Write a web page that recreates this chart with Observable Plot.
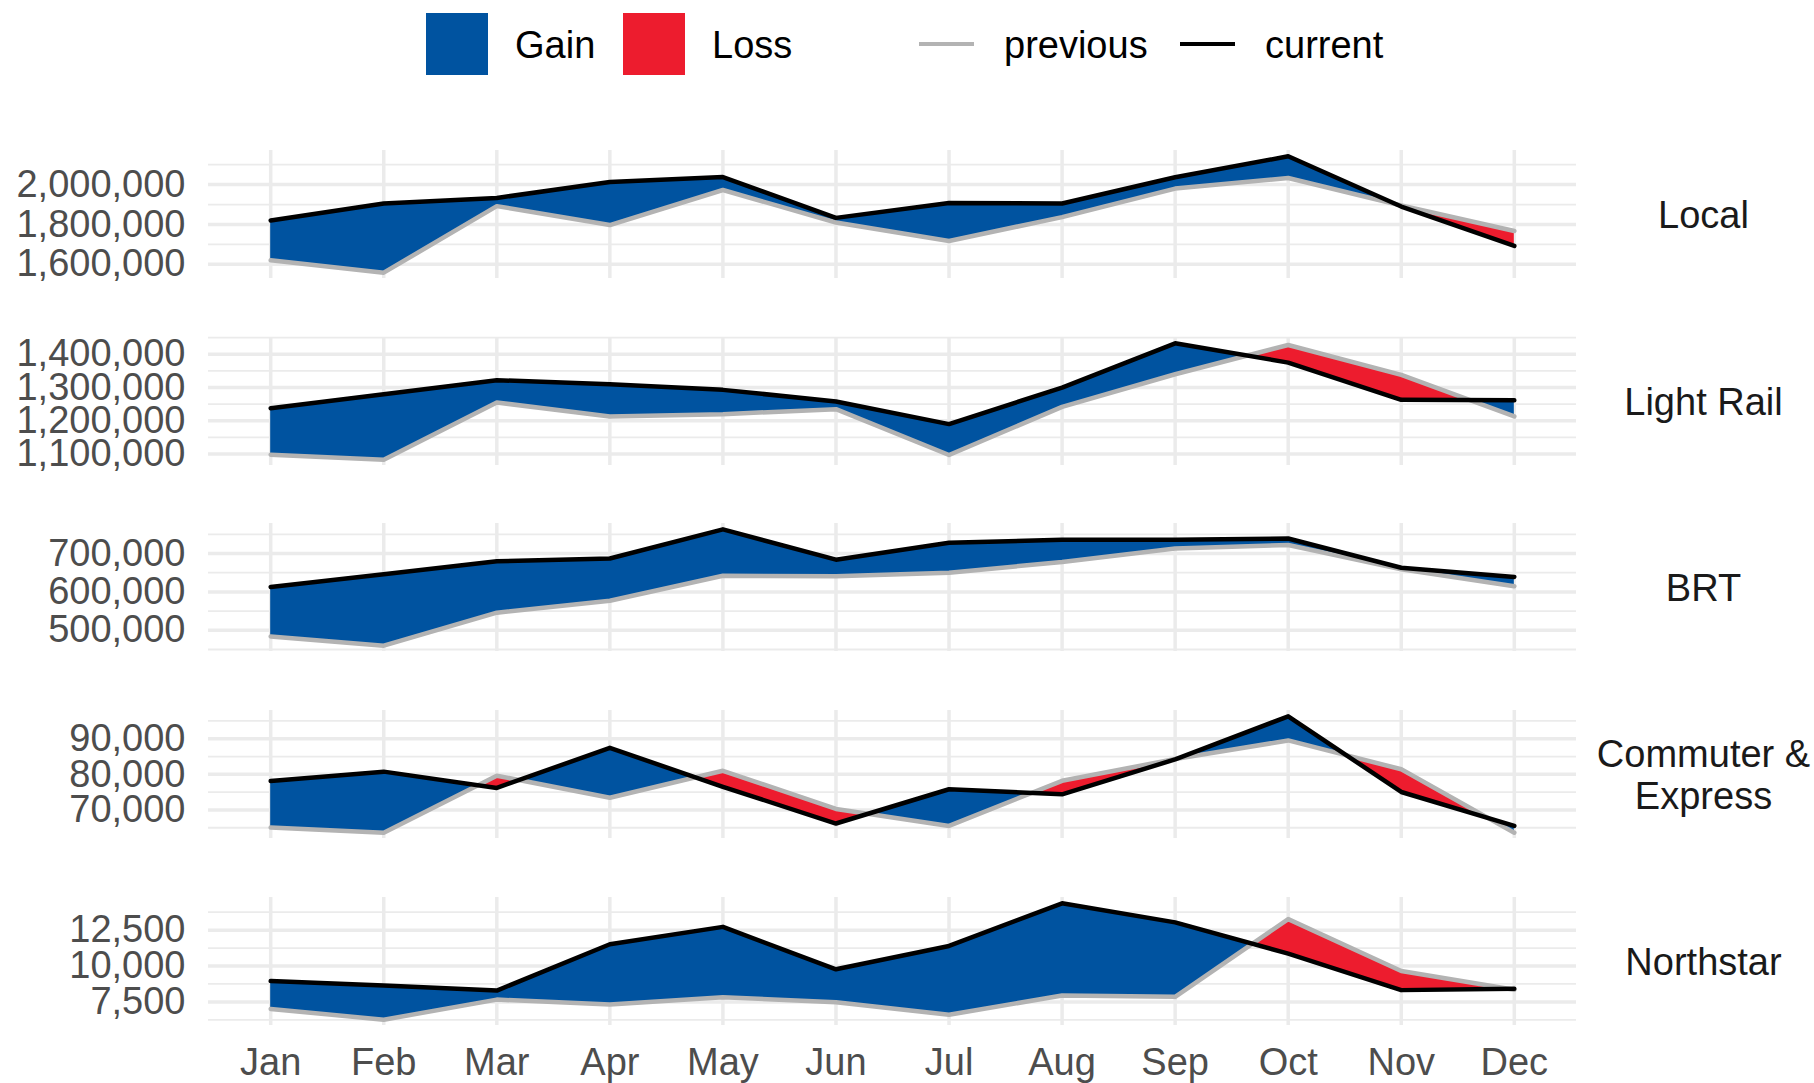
<!DOCTYPE html>
<html>
<head>
<meta charset="utf-8">
<script src="https://cdn.jsdelivr.net/npm/d3@7"></script>
<script src="https://cdn.jsdelivr.net/npm/@observablehq/plot@0.6"></script>
<style>
  html, body { margin: 0; padding: 0; background: #fff; }
  #root { position: relative; width: 1814px; height: 1083px; overflow: hidden;
          font-family: "Liberation Sans", Arial, Helvetica, sans-serif; }
  .panel { position: absolute; left: 0; }
  .lg { position: absolute; font-size: 38px; color: #000; line-height: 1; }
</style>
</head>
<body>
<div id="root"></div>
<script>
// ---------------- DATA ----------------
const months = ["Jan","Feb","Mar","Apr","May","Jun","Jul","Aug","Sep","Oct","Nov","Dec"];
const modes = ["Local", "Light Rail", "BRT", "Commuter &\nExpress", "Northstar"];

const localPrev = [1620000,1558000,1892000,1797000,1973000,1810000,1717000,1837000,1980000,2033000,1895000,1767000];
const localCur  = [1820000,1905000,1933000,2013000,2038000,1833000,1908000,1905000,2037000,2142000,1890000,1692000];

const lightRailPrev = [1098000,1083000,1255000,1213000,1220000,1235000,1097000,1242000,1340000,1428000,1338000,1213000];
const lightRailCur  = [1238000,1280000,1322000,1310000,1293000,1258000,1190000,1300000,1433000,1375000,1263000,1262000];

const brtPrev = [484000,460000,546000,577000,642000,641000,650000,678000,713000,722000,659000,615000];
const brtCur  = [613000,646000,680000,687000,763000,684000,728000,736000,736000,739000,663000,639000];

const commuterPrev = [65050,63620,79620,73430,81000,70290,65520,78190,84300,89520,81430,63620];
const commuterCur  = [78100,80760,76190,87430,76500,66190,75810,74380,84200,96290,75050,65520];

const northstarPrev = [7010,6260,7660,7310,7830,7480,6610,7940,7850,13270,9650,8350];
const northstarCur  = [8950,8640,8290,11520,12730,9770,11400,14370,13040,10860,8320,8420];

// tick labels (major) and minor grid values per panel
const localTicks = [1600000,1800000,2000000];
const localMinor = [1700000,1900000,2100000];
const lightRailTicks = [1100000,1200000,1300000,1400000];
const lightRailMinor = [1150000,1250000,1350000,1450000];
const brtTicks = [500000,600000,700000];
const brtMinor = [450000,550000,650000,750000];
const commuterTicks = [70000,80000,90000];
const commuterMinor = [65000,75000,85000,95000];
const northstarTicks = [7500,10000,12500];
const northstarMinor = [6250,8750,11250,13750];

const legendLabels = ["Gain","Loss","previous","current"];

// ---------------- STYLE ----------------
const GAIN = "#0053A0", LOSS = "#ED1C2E", PREV = "#B3B3B3", CUR = "#000000", GRID = "#EBEBEB";
const FONT = "'Liberation Sans', Arial, Helvetica, sans-serif";

const panels = [
  {label: modes[0], prev: localPrev, cur: localCur, ticks: localTicks, minor: localMinor},
  {label: modes[1], prev: lightRailPrev, cur: lightRailCur, ticks: lightRailTicks, minor: lightRailMinor},
  {label: modes[2], prev: brtPrev, cur: brtCur, ticks: brtTicks, minor: brtMinor},
  {label: modes[3], prev: commuterPrev, cur: commuterCur, ticks: commuterTicks, minor: commuterMinor},
  {label: modes[4], prev: northstarPrev, cur: northstarCur, ticks: northstarTicks, minor: northstarMinor}
];

const root = document.getElementById("root");
const panelTops = [150, 337, 523, 710, 897];
const panelH = 128, mTop = 10;
const monthIdx = months.map((m, i) => i + 1);

panels.forEach((p, k) => {
  const rows = months.map((m, i) => ({x: i + 1, prev: p.prev[i], cur: p.cur[i]}));
  // insert crossing points so gain/loss ribbons split exactly where lines cross
  const pts = [];
  for (let i = 0; i < rows.length; i++) {
    pts.push(rows[i]);
    if (i < rows.length - 1) {
      const d0 = rows[i].cur - rows[i].prev, d1 = rows[i + 1].cur - rows[i + 1].prev;
      if (d0 * d1 < 0) {
        const t = d0 / (d0 - d1);
        const yv = rows[i].prev + t * (rows[i + 1].prev - rows[i].prev);
        pts.push({x: rows[i].x + t, prev: yv, cur: yv});
      }
    }
  }
  const all = p.prev.concat(p.cur);
  const lo = d3.min(all), hi = d3.max(all), pad = (hi - lo) * 0.05;
  const last = k === panels.length - 1;
  const mBottom = last ? 57 : 10;

  const marks = [
    Plot.gridY(p.minor, {stroke: GRID, strokeWidth: 1.8, strokeOpacity: 1}),
    Plot.gridY(p.ticks, {stroke: GRID, strokeWidth: 3.5, strokeOpacity: 1}),
    Plot.gridX(monthIdx, {stroke: GRID, strokeWidth: 3.5, strokeOpacity: 1}),
    Plot.areaY(pts, {x: "x", y1: "prev", y2: d => Math.max(d.cur, d.prev), fill: GAIN}),
    Plot.areaY(pts, {x: "x", y1: d => Math.min(d.cur, d.prev), y2: "prev", fill: LOSS}),
    Plot.line(rows, {x: "x", y: "prev", stroke: PREV, strokeWidth: 4.5}),
    Plot.line(rows, {x: "x", y: "cur", stroke: CUR, strokeWidth: 4.5}),
    Plot.axisY(p.ticks, {tickSize: 0, tickPadding: 23, tickFormat: d3.format(","), label: null, fill: "#4D4D4D"}),
    Plot.text([p.label], {text: d => d, frameAnchor: "right", dx: 127, textAnchor: "middle", lineHeight: 1.1, fill: "#1A1A1A"})
  ];
  if (last) {
    marks.push(Plot.axisX(monthIdx, {tickSize: 0, tickPadding: 23, tickFormat: i => months[i - 1], label: null, fill: "#4D4D4D"}));
  }

  const chart = Plot.plot({
    width: 1814,
    height: mTop + panelH + mBottom,
    marginTop: mTop,
    marginBottom: mBottom,
    marginLeft: 208,
    marginRight: 238,
    style: {fontSize: "38px", fontFamily: FONT, background: "transparent", overflow: "visible"},
    x: {type: "linear", domain: [0.45, 12.55], axis: null},
    y: {type: "linear", domain: [lo - pad, hi + pad], axis: null},
    marks
  });
  chart.classList.add("panel");
  chart.style.top = (panelTops[k] - mTop) + "px";
  root.appendChild(chart);
});

// ---------------- LEGEND ----------------
function box(left, color) {
  const d = document.createElement("div");
  Object.assign(d.style, {position: "absolute", left: left + "px", top: "13px", width: "62px", height: "62px", background: color});
  root.appendChild(d);
}
function lineKey(left, color) {
  const d = document.createElement("div");
  Object.assign(d.style, {position: "absolute", left: left + "px", top: "42px", width: "55px", height: "4px", background: color});
  root.appendChild(d);
}
function label(left, txt) {
  const d = document.createElement("div");
  d.className = "lg";
  d.textContent = txt;
  Object.assign(d.style, {left: left + "px", top: "26px"});
  root.appendChild(d);
}
box(426, GAIN); label(515, legendLabels[0]);
box(623, LOSS); label(712, legendLabels[1]);
lineKey(919, PREV); label(1004, legendLabels[2]);
lineKey(1180, CUR); label(1265, legendLabels[3]);
</script>
</body>
</html>
